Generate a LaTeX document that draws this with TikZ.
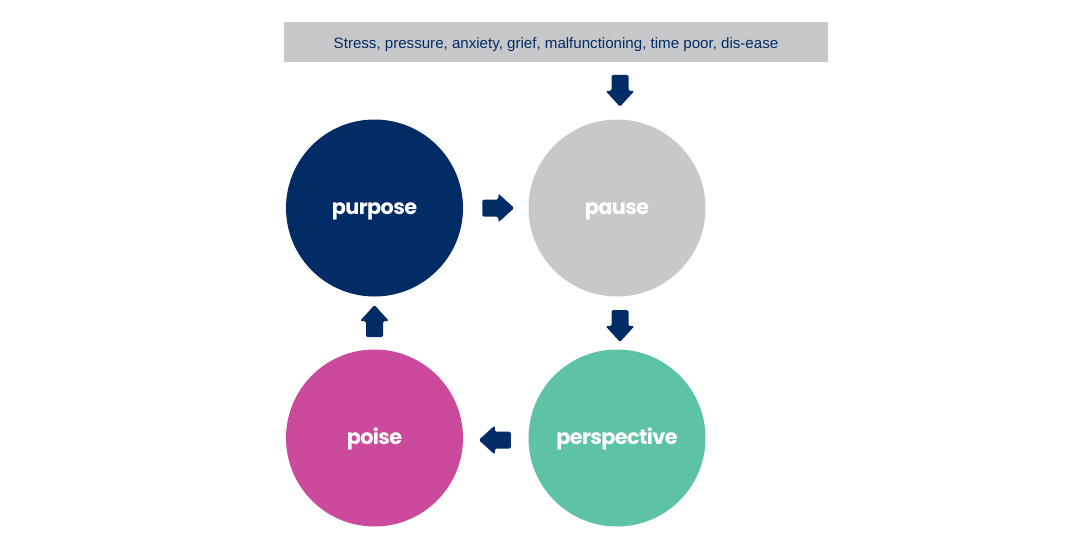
\documentclass[tikz,border=0pt]{standalone}
\usepackage{fontspec}
\setmainfont{Liberation Sans}
\newfontfamily\circfont[LetterSpace=-3]{Poppins Bold}
\usetikzlibrary{calc}
\definecolor{navy}{HTML}{022C66}
\definecolor{lgray}{HTML}{C7C8CA}
\definecolor{pink}{HTML}{CB4A9C}
\definecolor{teal}{HTML}{5EC2A6}
\newcommand{\ctext}[1]{\raisebox{-6pt}[0pt][0pt]{#1}}
\tikzset{
  circ/.style={circle, minimum size=177pt, inner sep=0pt, text=white, font=\circfont\fontsize{20.8}{20.8}\selectfont},
  topbox/.style={fill=lgray, minimum width=544pt, minimum height=40pt, inner sep=0pt, text=navy, font=\fontsize{15.1}{15.1}\selectfont},
  arrowfill/.style={fill=navy, rounded corners=1.5pt}
}
\newcommand{\blockarrow}[2]{%
  \begin{scope}[shift={(#1)}, rotate=#2]
    \fill[arrowfill] (-16,-8.5) -- (0,-8.5) -- (0,-14.5) -- (16,0) -- (0,14.5) -- (0,8.5) -- (-16,8.5) -- cycle;
  \end{scope}}
\begin{document}
\begin{tikzpicture}[x=1pt,y=-1pt]
\useasboundingbox (0,0) rectangle (1080,550);
\node[topbox] (top) at (556,42) {\raisebox{-6pt}[0pt][0pt]{Stress, pressure, anxiety, grief, malfunctioning, time poor, dis-ease}};
\node[circ, fill=navy] (purpose) at (374.5,208) {\ctext{purpose}};
\node[circ, fill=lgray] (pause) at (617,208) {\ctext{pause}};
\node[circ, fill=teal] (perspective) at (617,438) {\ctext{perspective}};
\node[circ, fill=pink] (poise) at (374.5,438) {\ctext{poise}};
\coordinate (a0) at ($(top.south)!0.5!(pause.north) + (33.5,0)$);
\coordinate (a1) at ($(purpose.east)!0.5!(pause.west) + (2.5,0)$);
\coordinate (a2) at ($(pause.south)!0.5!(perspective.north) + (3,3)$);
\coordinate (a3) at ($(perspective.west)!0.5!(poise.east) + (-1,2)$);
\coordinate (a4) at ($(poise.north)!0.5!(purpose.south) + (0,-2)$);
\blockarrow{a0}{-90}
\blockarrow{a1}{0}
\blockarrow{a2}{-90}
\blockarrow{a3}{180}
\blockarrow{a4}{90}
\end{tikzpicture}
\end{document}
